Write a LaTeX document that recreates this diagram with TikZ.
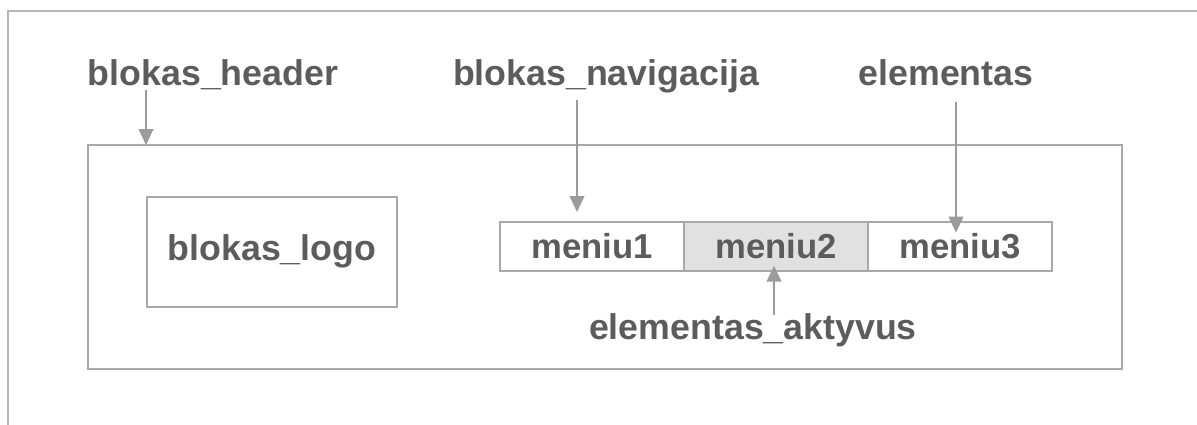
\documentclass[tikz,border=0pt]{standalone}
\usepackage{fontspec}
\setmainfont{Liberation Sans}
\usetikzlibrary{arrows.meta,positioning}

\definecolor{txtgray}{RGB}{92,92,92}
\definecolor{linegray}{RGB}{168,168,168}
\definecolor{arrgray}{RGB}{155,155,155}
\definecolor{activegray}{RGB}{225,225,225}

\tikzset{
	lbl/.style={text=txtgray, font=\fontsize{26.8}{30}\selectfont\bfseries, inner sep=0pt, anchor=base},
	box/.style={draw=linegray, line width=1.5pt, inner sep=0pt, outer sep=0pt},
	cell/.style={box, minimum width=138pt, minimum height=36.75pt, text=txtgray, font=\fontsize{26}{30}\selectfont\bfseries},
	arr/.style={draw=arrgray, line width=1.5pt, -{Triangle[length=12pt,width=11pt]}}
}

\begin{document}
\begin{tikzpicture}[x=0.75pt,y=0.75pt,yscale=-1,xscale=1]
	\useasboundingbox (0,0) rectangle (1197,425);
	% page frame, only top and left edge visible
	\draw [draw=linegray!85, line width=1.5pt] (8,425) -- (8,11) -- (1197,11) ;
	% header block and logo
	\node [box, minimum width=775.5pt, minimum height=168pt] (header) at (605,257) {};
	\node [box, minimum width=187.5pt, minimum height=82.5pt] (logo) at (272,252) {};
	\node [lbl] at ([yshift=6pt]logo.center) {blokas\_logo};
	% menu
	\node [cell] (m1) at (592,246.5) {meniu1};
	\node [cell, fill=activegray, right=0pt of m1] (m2) {meniu2};
	\node [cell, right=0pt of m2] (m3) {meniu3};
	% labels
	\node [lbl] (hdr) at (213,85) {blokas\_header};
	\node [lbl] (nav) at (606,85) {blokas\_navigacija};
	\node [lbl] (el) at (946,85) {elementas};
	\node [lbl] (akt) at (753,339) {elementas\_aktyvus};
	\coordinate (hdrA) at (146,90);
	\coordinate (navA) at (577,100);
	\coordinate (elA) at (956,102);
	\coordinate (aktA) at (774,315);
	% pointers
	\draw [arr] (hdrA) -- (hdrA |- header.north) ;
	\draw [arr, shorten >=7.5pt] (navA) -- (navA |- m1.north) ;
	\draw [arr, shorten >=-8pt] (elA) -- (elA |- m3.north) ;
	\draw [arr, shorten >=-4pt] (aktA) -- (aktA |- m2.south) ;
\end{tikzpicture}
\end{document}
